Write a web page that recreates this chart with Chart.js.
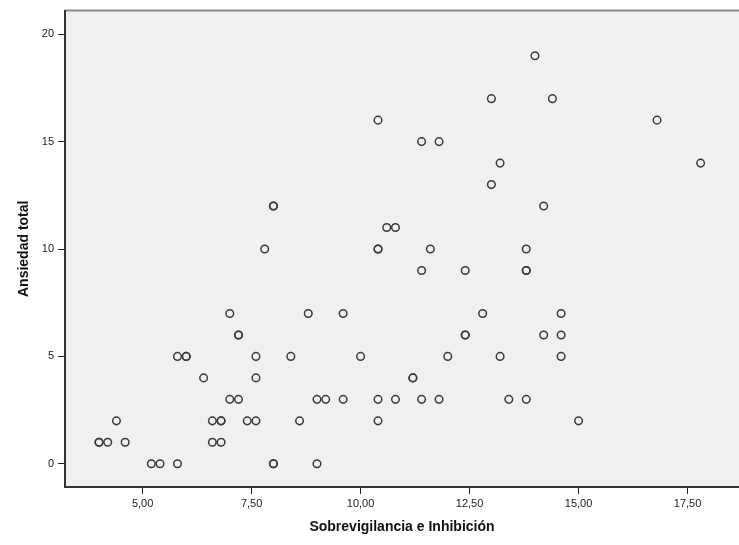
<!DOCTYPE html>
<html>
<head>
<meta charset="utf-8">
<script src="https://cdn.jsdelivr.net/npm/chart.js@4.4.1/dist/chart.umd.min.js"></script>
<style>
  body { margin: 0; background: #ffffff; }
  #scatterChart { display: block; }
</style>
</head>
<body>
<canvas id="scatterChart" width="739" height="545"></canvas>
<script>
// Sobrevigilancia e Inhibición (x) vs Ansiedad total (y)
const sobrevigilancia = [
  14.0, 13.0, 14.4, 10.4, 16.8, 11.4, 11.8, 13.2, 17.8, 13.0,
  8.0, 8.0, 14.2, 10.6, 10.8,
  7.8, 10.4, 10.4, 11.6, 13.8,
  11.4, 12.4, 13.8, 13.8,
  7.0, 8.8, 9.6, 12.8, 14.6,
  7.2, 7.2, 12.4, 12.4, 14.2, 14.6,
  5.8, 6.0, 6.0, 7.6, 8.4, 10.0, 12.0, 13.2, 14.6,
  6.4, 7.6, 11.2, 11.2,
  7.0, 7.2, 9.0, 9.2, 9.6, 10.4, 10.8, 11.4, 11.8, 13.4, 13.8,
  4.4, 6.6, 6.8, 6.8, 7.4, 7.6, 8.6, 10.4, 15.0,
  4.0, 4.0, 4.2, 4.6, 6.6, 6.8,
  5.2, 5.4, 5.8, 8.0, 8.0, 9.0
];
const ansiedad = [
  19, 17, 17, 16, 16, 15, 15, 14, 14, 13,
  12, 12, 12, 11, 11,
  10, 10, 10, 10, 10,
  9, 9, 9, 9,
  7, 7, 7, 7, 7,
  6, 6, 6, 6, 6, 6,
  5, 5, 5, 5, 5, 5, 5, 5, 5,
  4, 4, 4, 4,
  3, 3, 3, 3, 3, 3, 3, 3, 3, 3, 3,
  2, 2, 2, 2, 2, 2, 2, 2, 2,
  1, 1, 1, 1, 1, 1,
  0, 0, 0, 0, 0, 0
];
const xTicks = [5, 7.5, 10, 12.5, 15, 17.5];
const yTicks = [0, 5, 10, 15, 20];

const points = sobrevigilancia.map((x, i) => ({ x: x, y: ansiedad[i] }));

// grey plot background + top border like the SPSS output
const plotBackground = {
  id: 'plotBackground',
  beforeDraw(chart) {
    const { ctx, chartArea } = chart;
    ctx.save();
    ctx.fillStyle = '#f0f0f0';
    ctx.fillRect(chartArea.left, chartArea.top, chartArea.right - chartArea.left, chartArea.bottom - chartArea.top);
    ctx.strokeStyle = '#8a8a8a';
    ctx.lineWidth = 2;
    ctx.beginPath();
    ctx.moveTo(chartArea.left, chartArea.top);
    ctx.lineTo(chartArea.right, chartArea.top);
    ctx.stroke();
    ctx.restore();
  }
};

const tickFont = { family: 'Liberation Sans, Arial, sans-serif', size: 11 };
const titleFont = { family: 'Liberation Sans, Arial, sans-serif', size: 14, weight: 'bold' };

new Chart(document.getElementById('scatterChart'), {
  type: 'scatter',
  data: {
    datasets: [{
      label: 'Ansiedad total',
      data: points,
      pointRadius: 3.8,
      pointHoverRadius: 3.8,
      pointBorderWidth: 1.5,
      pointBorderColor: '#3a3a3a',
      pointBackgroundColor: 'rgba(0,0,0,0)'
    }]
  },
  options: {
    responsive: false,
    animation: false,
    layout: {
      autoPadding: false,
      padding: { top: 7, right: 0, bottom: 0, left: 0 }
    },
    plugins: {
      legend: { display: false },
      tooltip: { enabled: false }
    },
    scales: {
      x: {
        type: 'linear',
        min: 3.22,
        max: 18.68,
        afterBuildTicks: (scale) => {
          scale.ticks = xTicks.map((v) => ({ value: v }));
        },
        afterFit: (scale) => {
          scale.height = 58;
        },
        ticks: {
          font: tickFont,
          color: '#222',
          padding: 3,
          maxRotation: 0,
          callback: (v) => v.toFixed(2).replace('.', ',')
        },
        grid: {
          drawOnChartArea: false,
          tickLength: 7,
          color: '#222',
          lineWidth: 1
        },
        border: { color: '#333', width: 2 },
        title: {
          display: true,
          text: 'Sobrevigilancia e Inhibición',
          font: titleFont,
          color: '#111',
          padding: { top: 0, bottom: 9 }
        }
      },
      y: {
        type: 'linear',
        min: -1.08,
        max: 21.1,
        afterBuildTicks: (scale) => {
          scale.ticks = yTicks.map((v) => ({ value: v }));
        },
        afterFit: (scale) => {
          scale.width = 65;
        },
        ticks: {
          font: tickFont,
          color: '#222',
          padding: 4
        },
        grid: {
          drawOnChartArea: false,
          tickLength: 7,
          color: '#222',
          lineWidth: 1
        },
        border: { color: '#333', width: 2 },
        title: {
          display: true,
          text: 'Ansiedad total',
          font: titleFont,
          color: '#111',
          padding: { top: 16, bottom: 0 }
        }
      }
    }
  },
  plugins: [plotBackground]
});
</script>
</body>
</html>
